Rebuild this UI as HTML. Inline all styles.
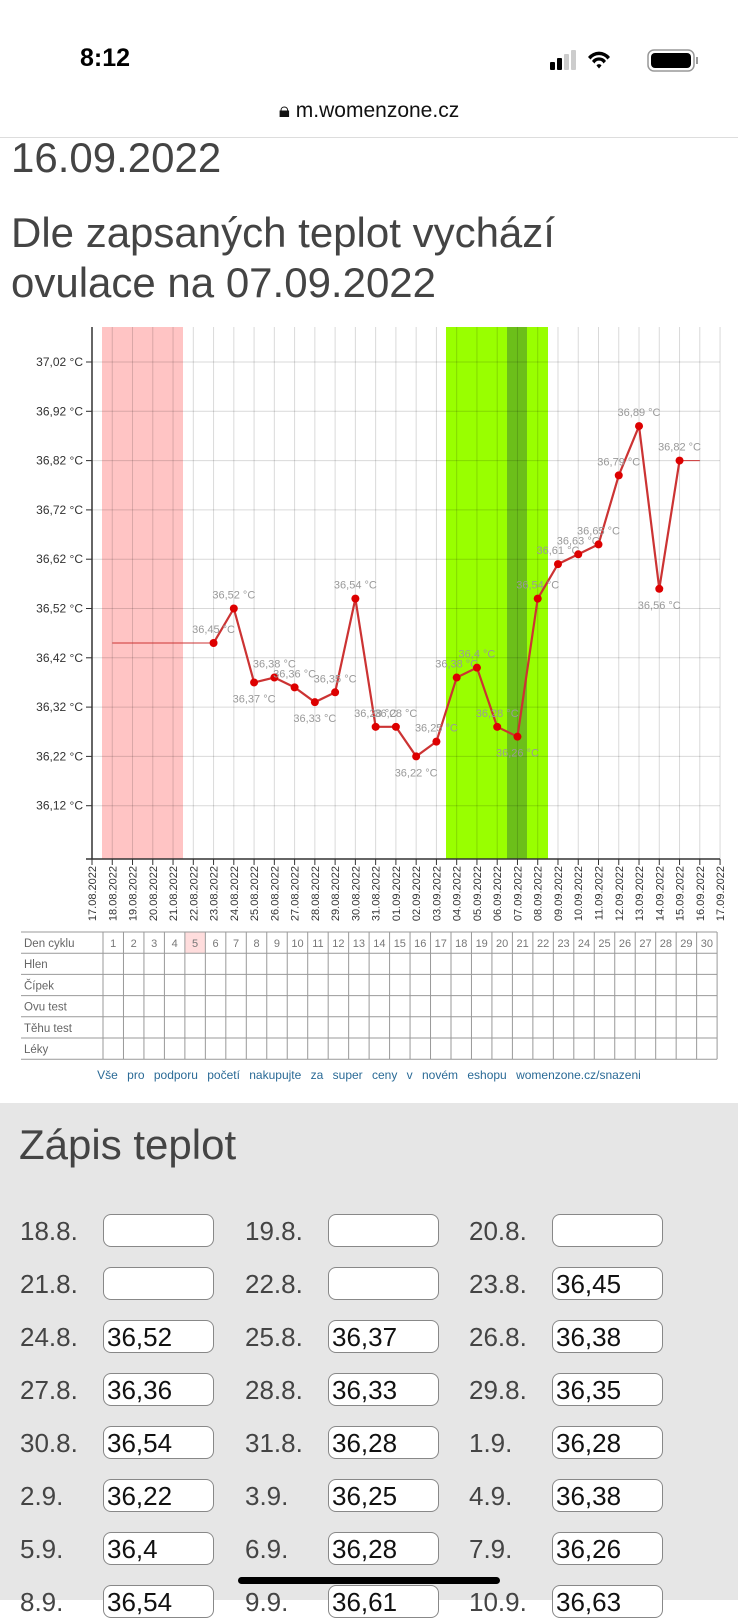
<!DOCTYPE html>
<html><head><meta charset="utf-8">
<style>
body{margin:0;width:738px;height:1600px;overflow:hidden;background:#fff;font-family:"Liberation Sans",sans-serif;position:relative}
.abs{position:absolute}
.gray{position:absolute;left:0;top:1103px;width:738px;height:497px;background:#e6e6e6}
.lbl{position:absolute;font-size:26px;color:#444}
.inp{position:absolute;width:111px;height:33px;background:#fff;border:1.5px solid #888;border-radius:8px;font-size:26px;color:#111;line-height:33px;padding-left:3px;box-sizing:border-box}
</style></head><body>
<div class="abs" style="left:80px;top:44px;font-size:25px;font-weight:bold;color:#000">8:12</div>
<svg class="abs" style="left:548px;top:48px" width="160" height="26">
<rect x="2" y="14" width="5" height="8" rx="1" fill="#000"/><rect x="9" y="10" width="5" height="12" rx="1" fill="#000"/><rect x="16" y="6" width="5" height="16" rx="1" fill="#ccc"/><rect x="23" y="2" width="5" height="20" rx="1" fill="#ccc"/>
<path d="M40 9 a14 14 0 0 1 22 0 l-2.5 2.5 a10.5 10.5 0 0 0 -17 0z M44 13 a8.5 8.5 0 0 1 14 0 l-2.5 2.5 a5 5 0 0 0 -9 0z M48.5 17.5 a3 3 0 0 1 5 0 l-2.5 3z" fill="#000"/>
<rect x="100" y="2" width="46" height="21" rx="6" fill="none" stroke="#999" stroke-width="1.5"/><rect x="103" y="5" width="40" height="15" rx="4" fill="#000"/><rect x="148" y="9" width="2" height="7" fill="#999"/>
</svg>
<div class="abs" style="left:0;width:738px;top:99px;text-align:center;font-size:21px;color:#111">&#128274;&#xFE0E; m.womenzone.cz</div>
<div class="abs" style="left:0;top:137px;width:738px;height:1px;background:#ddd"></div>
<div class="abs" style="left:11px;top:134px;font-size:42px;color:#444">16.09.2022</div>
<div class="abs" style="left:11px;top:208px;font-size:42px;line-height:50px;color:#444">Dle zapsaných teplot vychází<br>ovulace na 07.09.2022</div>
<svg id="ch" class="abs" style="left:0;top:0" width="738" height="1100"></svg>
<div class="abs" style="left:0;width:738px;top:1068px;text-align:center;font-size:12px;color:#2a6a96;word-spacing:6px">Vše pro podporu početí nakupujte za super ceny v novém eshopu womenzone.cz/snazeni</div>
<div class="gray"></div>
<div class="abs" style="left:19px;top:1121px;font-size:42px;color:#444">Zápis teplot</div>
<div id="rows"></div>
<div class="abs" style="left:238px;top:1577px;width:262px;height:7px;border-radius:4px;background:#000"></div>
<script>
var s='',X0=92,D=20.26,Y0=362,K=493;
function X(k){return X0+k*D}function Y(t){return Y0+(37.02-t)*K}
s+='<rect x="102" y="327" width="81" height="532" fill="#ffc4c4"/>';
s+='<rect x="446" y="327" width="102" height="532" fill="#99ff00"/>';
s+='<rect x="507" y="327" width="20" height="532" fill="#6cbf1a"/>';
for(var k=1;k<=31;k++)s+='<line x1="'+X(k)+'" y1="327" x2="'+X(k)+'" y2="859" stroke="#000" stroke-opacity="0.15"/>';
var t=['37,02','36,92','36,82','36,72','36,62','36,52','36,42','36,32','36,22','36,12'];
for(var i=0;i<10;i++){var y=Y0+i*49.3;s+='<line x1="86" y1="'+y+'" x2="720" y2="'+y+'" stroke="#000" stroke-opacity="0.15"/>';
s+='<line x1="86" y1="'+y+'" x2="92" y2="'+y+'" stroke="#333"/>';
s+='<text x="83" y="'+(y+4)+'" text-anchor="end" font-size="12" fill="#333">'+t[i]+' °C</text>';}
s+='<line x1="92" y1="327" x2="92" y2="859" stroke="#333" stroke-width="1.5"/><line x1="86" y1="859" x2="720" y2="859" stroke="#333" stroke-width="1.5"/>';
var d0=new Date(2022,7,17);
for(var k=0;k<=31;k++){var d=new Date(d0.getTime()+k*864e5);var lab=('0'+d.getDate()).slice(-2)+'.'+('0'+(d.getMonth()+1)).slice(-2)+'.2022';
var x=X(k);s+='<line x1="'+x+'" y1="859" x2="'+x+'" y2="865" stroke="#333"/>';
s+='<text transform="translate('+(x+4)+',866) rotate(-90)" text-anchor="end" font-size="11" fill="#333">'+lab+'</text>';}
var v=[36.45,36.52,36.37,36.38,36.36,36.33,36.35,36.54,36.28,36.28,36.22,36.25,36.38,36.4,36.28,36.26,36.54,36.61,36.63,36.65,36.79,36.89,36.56,36.82];
s+='<line x1="'+X(1)+'" y1="'+Y(36.45)+'" x2="'+X(6)+'" y2="'+Y(36.45)+'" stroke="#c33" stroke-width="1"/>';
s+='<line x1="'+X(29)+'" y1="'+Y(36.82)+'" x2="'+X(30)+'" y2="'+Y(36.82)+'" stroke="#c33" stroke-width="1"/>';
var p='';for(var i=0;i<v.length;i++)p+=X(6+i)+','+Y(v[i])+' ';
s+='<polyline points="'+p+'" fill="none" stroke="#c33" stroke-width="2.2"/>';
for(var i=0;i<v.length;i++){var x=X(6+i),y=Y(v[i]);s+='<circle cx="'+x+'" cy="'+y+'" r="4" fill="#d00"/>';
var up=!(i>0&&v[i]<v[i-1]&&(i==v.length-1||v[i]<v[i+1]));
s+='<text x="'+x+'" y="'+(up?y-10:y+20)+'" text-anchor="middle" font-size="11" fill="#999">'+String(v[i]).replace('.',',')+' °C</text>';}
var tl=21,tr=717,c0=103,cw=20.47,ty=932,rh=21.2;
s+='<rect x="'+(c0+4*cw)+'" y="'+ty+'" width="'+cw+'" height="'+rh+'" fill="#fdd"/>';
var names=['Den cyklu','Hlen','Čípek','Ovu test','Těhu test','Léky'];
for(var r=0;r<=6;r++)s+='<line x1="'+tl+'" y1="'+(ty+r*rh)+'" x2="'+tr+'" y2="'+(ty+r*rh)+'" stroke="#999"/>';
for(var c=0;c<=30;c++)s+='<line x1="'+(c0+c*cw)+'" y1="'+ty+'" x2="'+(c0+c*cw)+'" y2="'+(ty+6*rh)+'" stroke="#999"/>';
for(var r=0;r<6;r++)s+='<text x="24" y="'+(ty+r*rh+15)+'" font-size="11.5" fill="#666">'+names[r]+'</text>';
for(var c=0;c<30;c++)s+='<text x="'+(c0+c*cw+cw/2)+'" y="'+(ty+15)+'" text-anchor="middle" font-size="11" fill="#777">'+(c+1)+'</text>';
document.getElementById('ch').innerHTML=s;
var L=['18.8.','19.8.','20.8.','21.8.','22.8.','23.8.','24.8.','25.8.','26.8.','27.8.','28.8.','29.8.','30.8.','31.8.','1.9.','2.9.','3.9.','4.9.','5.9.','6.9.','7.9.','8.9.','9.9.','10.9.'];
var V=['','','','','','36,45','36,52','36,37','36,38','36,36','36,33','36,35','36,54','36,28','36,28','36,22','36,25','36,38','36,4','36,28','36,26','36,54','36,61','36,63'];
var lx=[20,245,469],ix=[103,328,552],h='';
for(var i=0;i<L.length;i++){var r=Math.floor(i/3),c=i%3,y=1214+53*r;
h+='<div class="lbl" style="left:'+lx[c]+'px;top:'+(y+2)+'px">'+L[i]+'</div><div class="inp" style="left:'+ix[c]+'px;top:'+y+'px">'+V[i]+'</div>';}
document.getElementById('rows').innerHTML=h;
</script>
</body></html>
